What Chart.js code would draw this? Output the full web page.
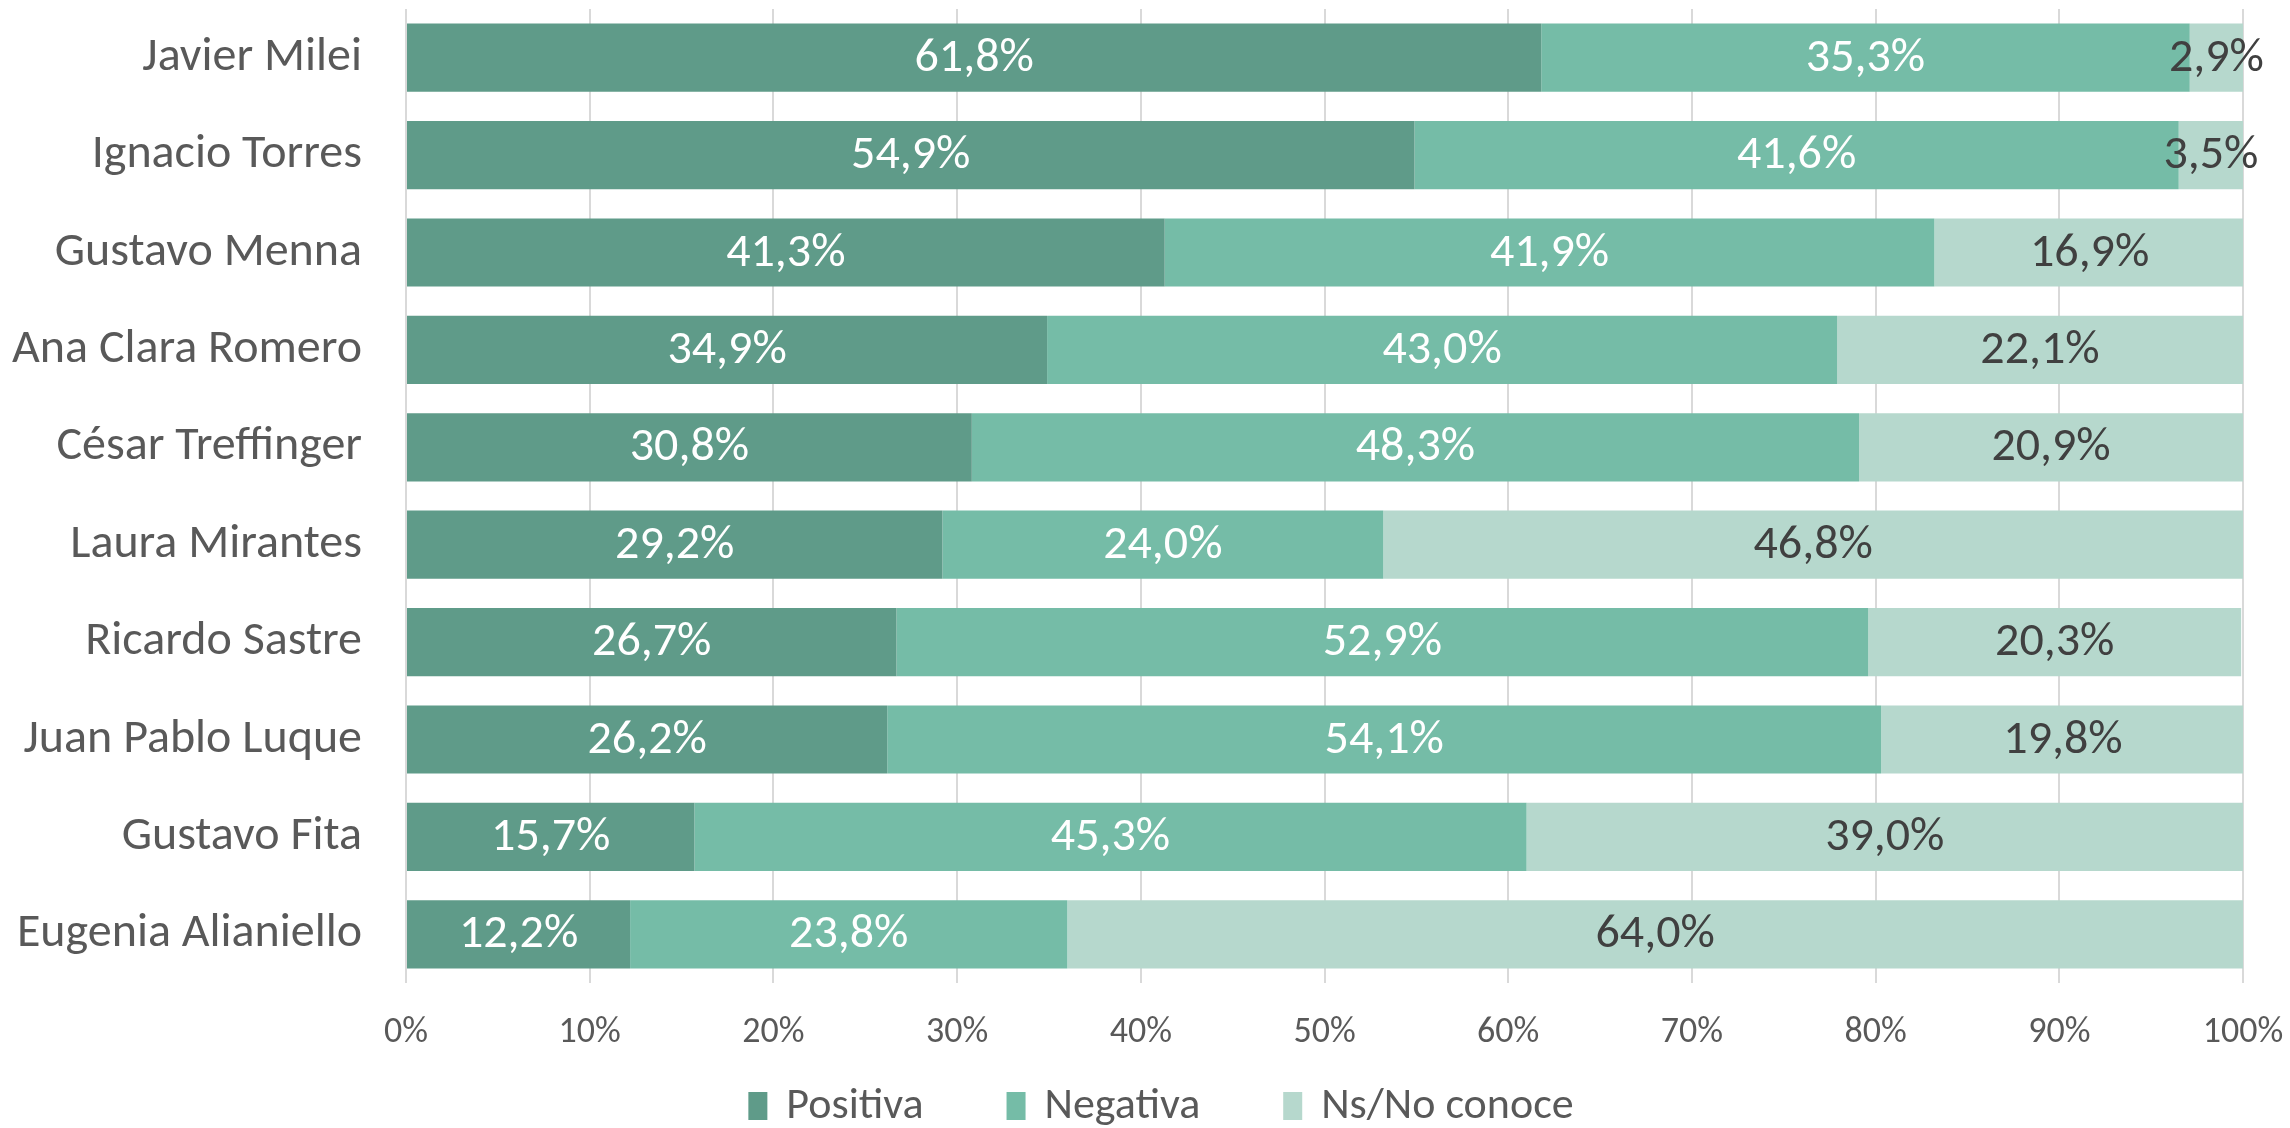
<!DOCTYPE html>
<html>
<head>
<meta charset="utf-8">
<script src="https://cdn.jsdelivr.net/npm/chart.js@4"></script>
<style>
  html, body { margin: 0; padding: 0; background: #fff; overflow: hidden; }
  canvas { display: block; }
</style>
</head>
<body>
<canvas id="imagenChart" width="2290" height="1128"></canvas>
<script>
// Imagen de dirigentes - valores en %
const candidatos = ['Javier Milei', 'Ignacio Torres', 'Gustavo Menna', 'Ana Clara Romero', 'César Treffinger',
    'Laura Mirantes', 'Ricardo Sastre', 'Juan Pablo Luque', 'Gustavo Fita', 'Eugenia Alianiello'];
const positiva = [61.8, 54.9, 41.3, 34.9, 30.8, 29.2, 26.7, 26.2, 15.7, 12.2];
const negativa = [35.3, 41.6, 41.9, 43.0, 48.3, 24.0, 52.9, 54.1, 45.3, 23.8];
const nsnc = [2.9, 3.5, 16.9, 22.1, 20.9, 46.8, 20.3, 19.8, 39.0, 64.0];
const ticksX = [0, 10, 20, 30, 40, 50, 60, 70, 80, 90, 100];

const fuente = 'Carlito, Calibri, Lato, sans-serif';
const fmt = v => v.toFixed(1).replace('.', ',') + '%';

// etiquetas dentro de cada segmento
const etiquetas = {
    id: 'etiquetas',
    afterDatasetsDraw(chart) {
        const ctx = chart.ctx;
        ctx.save();
        ctx.font = '48px ' + fuente;
        ctx.textAlign = 'center';
        ctx.textBaseline = 'middle';
        chart.data.datasets.forEach((ds, i) => {
            const meta = chart.getDatasetMeta(i);
            ctx.fillStyle = ds.labelColor;
            meta.data.forEach((bar, j) => {
                ctx.fillText(fmt(ds.data[j]), (bar.x + bar.base) / 2, bar.y + 1);
            });
        });
        ctx.restore();
    }
};

// leyenda abajo, estilo Excel (cuadros altos y separación amplia)
const leyenda = {
    id: 'leyenda',
    afterDraw(chart) {
        const ctx = chart.ctx;
        const ds = chart.data.datasets;
        const boxW = 19, boxH = 28, textGap = 19, itemGap = 83, y = 1106;
        ctx.save();
        ctx.font = '44px ' + fuente;
        ctx.textBaseline = 'middle';
        const widths = ds.map(d => boxW + textGap + ctx.measureText(d.label).width);
        const total = widths.reduce((a, b) => a + b, 0) + itemGap * (ds.length - 1);
        let x = (chart.width - total) / 2 + 16;
        ds.forEach((d, i) => {
            ctx.fillStyle = d.backgroundColor;
            ctx.fillRect(x, y - boxH / 2, boxW, boxH);
            ctx.fillStyle = '#595959';
            ctx.fillText(d.label, x + boxW + textGap, y + 1);
            x += widths[i] + itemGap;
        });
        ctx.restore();
    }
};

new Chart(document.getElementById('imagenChart'), {
    type: 'bar',
    data: {
        labels: candidatos,
        datasets: [
            { label: 'Positiva', data: positiva, backgroundColor: '#5f9b89', labelColor: '#ffffff' },
            { label: 'Negativa', data: negativa, backgroundColor: '#75bca7', labelColor: '#ffffff' },
            { label: 'Ns/No conoce', data: nsnc, backgroundColor: '#b6d8cd', labelColor: '#404040' }
        ]
    },
    options: {
        indexAxis: 'y',
        responsive: false,
        animation: false,
        barPercentage: 0.7,
        categoryPercentage: 1,
        layout: { padding: { top: 9, right: 47, left: 0, bottom: 65 } },
        scales: {
            x: {
                stacked: true,
                min: 0,
                max: 100,
                afterBuildTicks: s => { s.ticks = ticksX.map(v => ({ value: v })); },
                // sin relleno automático por las etiquetas extremas
                afterFit: s => { s.height = 80; s.paddingLeft = 0; s.paddingRight = 0; },
                grid: { color: '#d9d9d9', lineWidth: 2, drawTicks: false },
                border: { display: false },
                ticks: {
                    padding: 28,
                    color: '#595959',
                    font: { family: fuente, size: 36 },
                    callback: v => v + '%'
                }
            },
            y: {
                stacked: true,
                afterFit: s => { s.width = 406; s.paddingTop = 0; s.paddingBottom = 0; },
                grid: { display: false, drawTicks: false },
                border: { display: false },
                ticks: {
                    padding: 44,
                    color: '#595959',
                    font: { family: fuente, size: 48 }
                }
            }
        },
        plugins: {
            tooltip: { enabled: false },
            legend: { display: false }
        }
    },
    plugins: [etiquetas, leyenda]
});
</script>
</body>
</html>
